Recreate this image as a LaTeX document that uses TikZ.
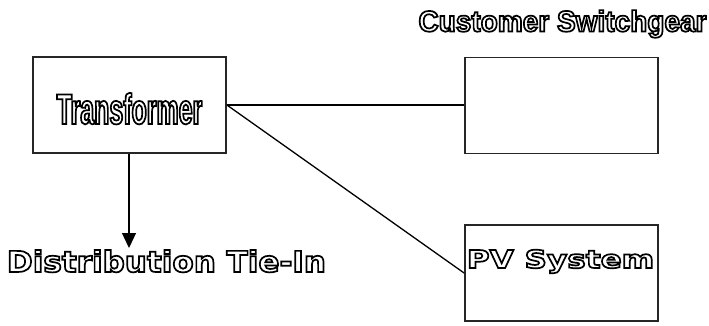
\documentclass[tikz,border=0pt]{standalone}
\usepackage{fontspec}
\usetikzlibrary{arrows.meta}
\newfontfamily\narrowfont{Liberation Sans}[FakeStretch=0.58]
\newfontfamily\capsfont{Liberation Sans}[FakeStretch=0.95]
\newfontfamily\widefont{DejaVu Sans}[FakeStretch=1.07]
\newfontfamily\pvfont{DejaVu Sans}[FakeStretch=1.26]
% hollow lettering: stroke the glyph outlines only (text render mode 1)
\newcommand{\hollow}[1]{\special{pdf:literal direct 1 Tr 1.7 w 0 G}#1\special{pdf:literal direct 0 Tr}}
\begin{document}
\begin{tikzpicture}[x=1pt,y=-1pt,
  unitbox/.style={draw=black!85,line width=1.8pt,minimum width=193pt,minimum height=96pt,inner sep=0pt},
  wire/.style={line width=1.3pt},
  lbl/.style={inner sep=0pt,anchor=base}]
\useasboundingbox (0,0) rectangle (709,325);
% equipment boxes
\node[unitbox] (tr) at (129.5,105) {};
\node[unitbox] (sw) at (561.5,105.5) {};
\node[unitbox] (pv) at (561.5,273) {};
% labels
\node[lbl] (trl) at (129.5,124) {\narrowfont\bfseries\fontsize{43}{43}\selectfont\hollow{Transformer}};
\node[lbl] (swl) at (562.5,31.5) {\capsfont\bfseries\fontsize{29.5}{29.5}\selectfont\hollow{Customer Switchgear}};
\node[lbl] (pvl) at (560.5,268) {\pvfont\bfseries\fontsize{24.7}{24.7}\selectfont\hollow{PV System}};
\node[lbl] (dti) at (166.5,272) {\widefont\bfseries\fontsize{29}{29}\selectfont\hollow{Distribution Tie-In}};
% connections
\coordinate (j) at (tr.east |- 0,105);
\draw[wire] (j) -- (j -| sw.west);
\draw[wire] (j) -- (pv.west |- 0,273);
\coordinate (tip) at (129,248);
\draw[wire,-{Triangle[length=15pt,width=14pt]}] (tr.south -| tip) -- (tip);
\end{tikzpicture}
\end{document}
